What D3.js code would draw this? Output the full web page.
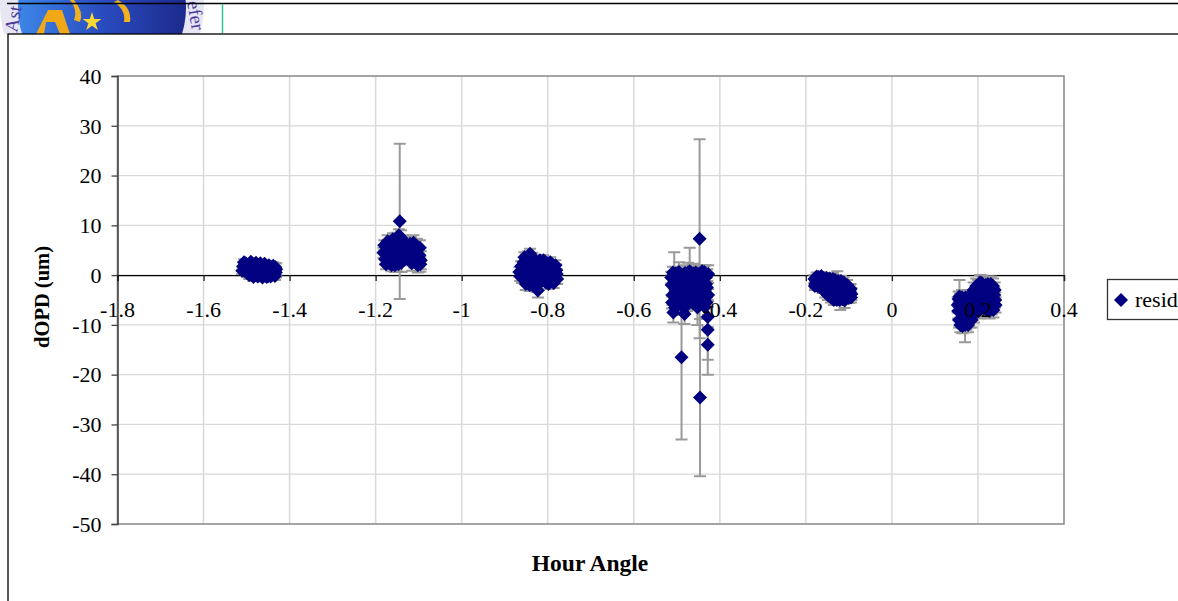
<!DOCTYPE html>
<html><head><meta charset="utf-8">
<script src="https://cdn.jsdelivr.net/npm/d3@7"></script>
<style>
body{margin:0;background:#fff;overflow:hidden;}
svg{display:block;font-family:"Liberation Serif","Times New Roman",serif;}
</style>
</head><body>
<svg id="c" width="1178" height="601"></svg>
<script>
// ---------- data ----------
const xTicks = [-1.8,-1.6,-1.4,-1.2,-1,-0.8,-0.6,-0.4,-0.2,0,0.2,0.4];
const xTickLabels = ["-1.8","-1.6","-1.4","-1.2","-1","-0.8","-0.6","-0.4","-0.2","0","0.2","0.4"];
const yTicks = [-50,-40,-30,-20,-10,0,10,20,30,40];
const yTickLabels = ["-50","-40","-30","-20","-10","0","10","20","30","40"];
const xTitle = "Hour Angle";
const yTitle = "dOPD (um)";
const seriesName = "resid";

// [hour angle, dOPD, error]
const cluster1 = [[-1.508,1.8,0.8],[-1.505,1.0,0.8],[-1.502,2.4,0.6],[-1.499,0.4,0.8],[-1.496,1.5,0.7],[-1.492,2.1,0.6],[-1.489,0.8,0.7],[-1.486,1.3,0.7],[-1.482,2.2,0.6],[-1.479,0.2,0.8],[-1.476,1.6,0.7],[-1.472,0.9,0.7],[-1.469,1.9,0.6],[-1.466,0.0,0.8],[-1.462,1.2,0.7],[-1.459,1.8,0.6],[-1.456,0.5,0.7],[-1.452,1.4,0.7],[-1.449,-0.2,0.8],[-1.446,1.0,0.7],[-1.442,1.6,0.6],[-1.439,0.3,0.7],[-1.436,0.9,0.8],[-1.432,0.5,1.0],[-1.431,1.2,1.2],
  [-1.510,0.9,0.7],[-1.506,2.6,0.6],[-1.500,1.2,0.7],[-1.494,0.0,0.8],[-1.490,2.7,0.6],[-1.484,-0.4,0.8],[-1.478,2.5,0.6],[-1.474,-0.3,0.8],[-1.468,2.4,0.6],[-1.463,-0.5,0.8],[-1.458,2.3,0.6],[-1.453,-0.4,0.8],[-1.448,2.0,0.6],[-1.444,-0.3,0.8],[-1.438,1.9,0.7],[-1.434,-0.2,0.8],[-1.433,1.6,0.8]];
const cluster2 = [[-1.182,4.5,1.0],[-1.178,3.2,1.0],[-1.175,5.6,1.0],[-1.171,4.0,1.2],[-1.168,2.4,1.0],[-1.165,6.0,1.2],[-1.161,3.5,1.5],[-1.158,5.0,1.2],[-1.155,2.0,1.4],[-1.152,7.0,1.5],[-1.149,4.2,2.0],[-1.146,8.0,1.2],[-1.144,10.8,15.6],[-1.143,5.5,1.5],[-1.140,2.5,1.9],[-1.137,6.5,1.5],[-1.134,4.0,2.0],[-1.130,4.2,1.5],[-1.126,5.2,2.5],[-1.122,4.5,1.5],[-1.118,6.0,1.6],[-1.114,4.5,1.5],[-1.110,3.0,1.5],[-1.106,5.5,1.5],[-1.102,2.0,1.5],[-1.098,4.0,1.5],[-1.095,3.0,1.8],
  [-1.180,6.0,1.0],[-1.176,2.2,1.0],[-1.172,6.8,1.2],[-1.163,2.0,1.2],[-1.160,7.2,1.2],[-1.156,3.0,1.2],[-1.150,5.8,1.5],[-1.147,2.2,1.5],[-1.141,7.5,1.5],[-1.138,3.5,1.5],[-1.132,6.2,1.5],[-1.128,6.2,1.5],[-1.124,3.8,1.5],[-1.120,6.3,1.5],[-1.116,2.4,1.5],[-1.112,6.5,1.5],[-1.108,4.0,1.5],[-1.104,5.8,1.5],[-1.100,3.2,1.5],[-1.097,5.5,1.5],[-1.096,2.2,1.5]];
const cluster3 = [[-0.866,0.6,1.0],[-0.862,1.8,1.0],[-0.860,-0.6,1.0],[-0.856,2.6,1.0],[-0.853,0.2,1.2],[-0.850,3.2,1.0],[-0.847,-1.0,1.2],[-0.844,1.5,1.0],[-0.841,4.3,1.0],[-0.838,2.2,1.0],[-0.835,-1.6,1.5],[-0.832,0.8,1.2],[-0.829,3.0,1.0],[-0.826,-2.2,1.2],[-0.823,-3.1,1.4],[-0.820,1.2,1.0],[-0.816,2.6,1.0],[-0.812,-0.5,1.2],[-0.808,1.8,1.0],[-0.804,-1.5,1.2],[-0.800,2.4,1.0],[-0.796,0.4,1.0],[-0.792,-1.0,1.2],[-0.788,1.5,1.0],[-0.784,0.0,1.0],[-0.780,1.0,1.2],[-0.778,-0.8,1.0],
  [-0.864,-0.2,1.0],[-0.858,1.0,1.0],[-0.854,3.6,1.0],[-0.851,-1.8,1.2],[-0.848,2.0,1.0],[-0.845,3.8,1.0],[-0.842,-2.0,1.2],[-0.839,0.2,1.0],[-0.836,3.5,1.0],[-0.833,-0.8,1.2],[-0.830,1.8,1.0],[-0.827,-1.0,1.2],[-0.824,2.0,1.0],[-0.821,-1.8,1.2],[-0.818,3.0,1.0],[-0.814,0.4,1.0],[-0.810,3.0,1.0],[-0.806,-1.2,1.0],[-0.802,0.8,1.0],[-0.798,-1.8,1.0],[-0.794,2.6,1.0],[-0.790,0.5,1.0],[-0.786,-1.6,1.0],[-0.782,2.0,1.0],[-0.779,0.2,1.0]];
const cluster4 = [[-0.512,-2.0,2.0],[-0.510,-4.0,2.0],[-0.508,-7.5,2.0],[-0.506,0.2,4.4],[-0.503,-3.0,2.0],[-0.500,-5.2,2.0],[-0.498,-1.0,2.0],[-0.495,0.6,2.0],[-0.492,-3.8,2.0],[-0.490,-6.0,2.0],[-0.489,-16.5,16.5],[-0.487,-2.2,2.0],[-0.484,0.0,2.0],[-0.482,-7.8,2.0],[-0.480,-4.5,2.0],[-0.477,-1.5,2.0],[-0.474,0.5,2.0],[-0.472,-3.0,2.0],[-0.470,0.8,4.7],[-0.467,-5.0,2.0],[-0.464,-2.0,2.0],[-0.461,0.3,2.0],[-0.458,-3.5,2.0],[-0.455,-1.0,3.0],[-0.452,-6.5,3.5],[-0.449,-4.0,2.0],[-0.447,7.3,20.0],[-0.446,-24.6,15.8],[-0.444,-1.5,3.5],[-0.441,0.8,1.2],[-0.438,-3.0,2.0],[-0.435,-6.4,2.0],[-0.433,-0.5,2.5],[-0.430,-2.5,2.0],[-0.428,-8.4,2.0],[-0.428,-11.0,6.0],[-0.428,-14.0,6.0],[-0.427,0.2,1.8],
  [-0.513,-0.5,1.2],[-0.511,-5.5,1.2],[-0.509,0.5,1.2],[-0.507,-1.5,1.2],[-0.505,-4.5,1.2],[-0.504,-6.5,1.2],[-0.502,0.3,1.2],[-0.501,-2.0,1.2],[-0.499,-3.5,1.2],[-0.497,-6.0,1.2],[-0.494,-2.5,1.2],[-0.493,0.0,1.2],[-0.491,-4.8,1.2],[-0.488,-1.0,1.2],[-0.486,-5.5,1.2],[-0.483,-3.0,1.2],[-0.481,0.4,1.2],[-0.479,-2.0,1.2],[-0.476,-6.0,1.2],[-0.475,-4.0,1.2],[-0.473,-0.5,1.2],[-0.469,-2.5,1.2],[-0.468,-4.0,1.2],[-0.466,0.2,1.2],[-0.463,-5.5,1.2],[-0.462,-3.0,1.2],[-0.460,-1.0,1.2],[-0.457,-4.8,1.2],[-0.456,0.5,1.2],[-0.454,-2.5,1.2],[-0.451,-4.0,1.2],[-0.450,0.2,1.2],[-0.448,-2.0,1.2],[-0.445,-5.0,1.2],[-0.443,0.5,1.2],[-0.442,-3.8,1.2],[-0.440,-1.5,1.2],[-0.437,-5.0,1.2],[-0.436,0.6,1.2],[-0.434,-3.5,1.2],[-0.432,-1.8,1.2],[-0.431,-5.5,1.2],[-0.429,0.0,1.2],[-0.427,-4.0,1.2]];
const cluster5 = [[-0.180,-0.8,0.8],[-0.178,-1.8,0.8],[-0.175,-0.3,0.8],[-0.172,-1.3,0.8],[-0.169,-2.1,0.8],[-0.166,-0.6,0.8],[-0.163,-1.6,0.8],[-0.160,-2.5,1.0],[-0.157,-0.9,0.8],[-0.154,-2.0,1.0],[-0.150,-3.0,1.0],[-0.147,-1.2,1.0],[-0.144,-2.4,1.0],[-0.140,-3.6,1.0],[-0.137,-0.8,1.2],[-0.134,-2.8,1.0],[-0.130,-4.2,1.2],[-0.127,-1.8,2.6],[-0.124,-3.3,1.0],[-0.120,-4.8,2.2],[-0.117,-2.4,1.0],[-0.113,-3.8,1.0],[-0.110,-5.1,1.5],[-0.106,-2.8,1.0],[-0.102,-4.2,1.2],[-0.098,-3.2,1.0],[-0.094,-3.8,1.2],
  [-0.179,-2.2,0.8],[-0.176,-1.0,0.8],[-0.173,-2.2,0.8],[-0.170,-0.4,0.8],[-0.167,-2.4,0.8],[-0.164,-0.2,0.8],[-0.161,-2.8,0.8],[-0.158,-1.4,0.8],[-0.155,-3.5,1.0],[-0.152,-0.6,0.8],[-0.149,-4.0,1.0],[-0.145,-0.7,1.0],[-0.142,-4.5,1.0],[-0.138,-2.0,1.0],[-0.135,-5.0,1.0],[-0.132,-1.0,1.0],[-0.128,-5.0,1.0],[-0.125,-1.2,1.0],[-0.122,-5.0,1.0],[-0.118,-1.2,1.0],[-0.115,-4.8,1.0],[-0.112,-1.5,1.0],[-0.108,-4.0,1.0],[-0.104,-2.0,1.0],[-0.100,-4.6,1.0],[-0.096,-2.8,1.0],[-0.095,-4.5,1.0]];
const cluster6 = [[0.153,-6.0,1.5],[0.155,-4.8,1.5],[0.157,-4.3,3.3],[0.160,-5.5,1.5],[0.162,-9.2,1.5],[0.165,-8.0,1.5],[0.167,-7.0,1.5],[0.170,-10.0,3.5],[0.172,-5.8,1.5],[0.175,-8.5,1.5],[0.178,-6.5,1.5],[0.181,-9.0,1.5],[0.184,-4.8,1.5],[0.187,-7.5,1.5],[0.190,-3.0,1.5],[0.193,-6.0,1.5],[0.196,-2.2,1.5],[0.199,-4.5,1.5],[0.202,-7.2,1.5],[0.205,-1.5,1.5],[0.208,-3.5,1.5],[0.211,-5.8,1.5],[0.214,-2.5,1.5],[0.217,-4.2,1.5],[0.220,-7.0,1.5],[0.223,-1.8,1.5],[0.226,-5.0,1.5],[0.229,-3.0,1.5],[0.232,-6.4,1.5],[0.235,-2.2,1.5],[0.238,-4.0,1.5],[0.241,-6.0,1.5],
  [0.154,-7.2,1.5],[0.156,-9.0,1.5],[0.158,-5.2,1.5],[0.159,-10.0,1.5],[0.161,-7.5,1.5],[0.163,-4.5,1.5],[0.164,-10.2,1.5],[0.166,-5.5,1.5],[0.168,-8.8,1.5],[0.171,-4.5,1.5],[0.173,-9.5,1.5],[0.174,-7.0,1.5],[0.176,-4.5,1.5],[0.177,-10.0,1.5],[0.179,-8.0,1.5],[0.182,-5.5,1.5],[0.183,-7.0,1.5],[0.185,-9.0,1.5],[0.188,-5.0,1.5],[0.191,-8.0,1.5],[0.194,-4.0,1.5],[0.197,-6.8,1.5],[0.200,-2.5,1.5],[0.203,-5.0,1.5],[0.206,-6.8,1.5],[0.209,-1.6,1.5],[0.212,-4.0,1.5],[0.215,-6.5,1.5],[0.218,-2.0,1.5],[0.221,-5.5,1.5],[0.224,-3.5,1.5],[0.227,-7.2,1.5],[0.230,-1.8,1.5],[0.233,-4.6,1.5],[0.236,-7.0,1.5],[0.239,-3.0,1.5],[0.240,-5.0,1.5]];

const points = [].concat(cluster1, cluster2, cluster3, cluster4, cluster5, cluster6);

// ---------- drawing ----------
const svg = d3.select("#c");
const W = 1178, H = 601;
const plot = {l: 117.5, r: 1064, t: 76, b: 524};
const x = d3.scaleLinear().domain([-1.8, 0.4]).range([plot.l, plot.r]);
const y = d3.scaleLinear().domain([-50, 40]).range([plot.b, plot.t]);
const navy = "#000080";
const errColor = "#9a9a9a";

// ---- page decoration (slide frame + logo) ----
const defs = svg.append("defs");
defs.append("clipPath").attr("id","logoClip").append("rect").attr("x",0).attr("y",0).attr("width",222).attr("height",34);
const lg = defs.append("linearGradient").attr("id","blueGrad").attr("x1","0").attr("x2","1").attr("y1","0").attr("y2","0");
lg.append("stop").attr("offset","0").attr("stop-color","#3d86e8");
lg.append("stop").attr("offset","0.5").attr("stop-color","#2a4cc0");
lg.append("stop").attr("offset","1").attr("stop-color","#1c2a8c");

const logo = svg.append("g").attr("clip-path","url(#logoClip)");
logo.append("circle").attr("cx",102).attr("cy",5).attr("r",102).attr("fill","#e6e6f4");
logo.append("circle").attr("cx",102).attr("cy",8).attr("r",84).attr("fill","url(#blueGrad)");
logo.append("path").attr("d","M36,34 L48,10 L62,10 L70,34 L60,34 L55,22 L46,22 L44,34 Z").attr("fill","#f0a818");
logo.append("path").attr("d","M74,0 Q84,12 80,22 L74,20 Q78,10 70,0 Z").attr("fill","#f0b020");
logo.append("path").attr("d","M118,0 Q132,8 130,22 L124,22 Q126,10 114,2 Z").attr("fill","#f0b020");
const star = d3.symbol().type(d3.symbolStar).size(110);
logo.append("path").attr("d",star()).attr("transform","translate(92,22)").attr("fill","#f8d830");
logo.append("text").attr("transform","translate(17,33) rotate(-80)").attr("font-size",19).attr("fill","#4a3a9a").text("Ast");
logo.append("text").attr("transform","translate(187,2) rotate(80)").attr("font-size",19).attr("fill","#4a3a9a").text("efer");

svg.append("line").attr("x1",7).attr("x2",W).attr("y1",3.5).attr("y2",3.5).attr("stroke","#000").attr("stroke-width",1.3);
svg.append("line").attr("x1",222.5).attr("x2",222.5).attr("y1",4).attr("y2",33).attr("stroke","#2ec49a").attr("stroke-width",1.5);
svg.append("rect").attr("x",8).attr("y",34).attr("width",W+10).attr("height",H).attr("fill","#fff").attr("stroke","#000").attr("stroke-width",1.3);

// ---- grid ----
const grid = svg.append("g");
grid.selectAll(".vg").data(xTicks).join("line")
  .attr("x1",d=>x(d)).attr("x2",d=>x(d)).attr("y1",plot.t).attr("y2",plot.b)
  .attr("stroke","#d9d9d9").attr("stroke-width",1.5);
grid.selectAll(".hg").data(yTicks).join("line")
  .attr("x1",plot.l).attr("x2",plot.r).attr("y1",d=>y(d)).attr("y2",d=>y(d))
  .attr("stroke","#d9d9d9").attr("stroke-width",1.2);
svg.append("rect").attr("x",plot.l).attr("y",plot.t).attr("width",plot.r-plot.l).attr("height",plot.b-plot.t)
  .attr("fill","none").attr("stroke","#8c8c8c").attr("stroke-width",1.5);

// ---- y axis ----
const yAxis = d3.axisLeft(y).tickValues(yTicks).tickSize(6).tickPadding(10)
  .tickFormat(d=>yTickLabels[yTicks.indexOf(d)]);
const gy = svg.append("g").attr("transform",`translate(${plot.l},0)`).call(yAxis);
gy.select(".domain").attr("stroke","#444").attr("stroke-width",1.5);
gy.selectAll(".tick line").attr("stroke","#444").attr("stroke-width",1.3);
gy.selectAll(".tick text").attr("font-size",22).attr("font-family","Liberation Serif").attr("fill","#000").attr("dy","0.33em");

// ---- x axis (at y = 0) ----
const xAxis = d3.axisBottom(x).tickValues(xTicks).tickSize(6).tickFormat("");
const gx = svg.append("g").attr("transform",`translate(0,${y(0)})`).call(xAxis);
gx.select(".domain").attr("stroke","#000").attr("stroke-width",1.3);
gx.selectAll(".tick line").attr("stroke","#222").attr("stroke-width",1.3);

// ---- error bars ----
const eb = svg.append("g").attr("stroke",errColor).attr("stroke-width",2).attr("fill","none");
const capW = 6;
eb.selectAll(".eb").data(points).join("path")
  .attr("d",d=>{
    const cx = x(d[0]), yt = y(d[1]+d[2]), yb = y(d[1]-d[2]);
    return `M${cx},${yt}V${yb}M${cx-capW},${yt}H${cx+capW}M${cx-capW},${yb}H${cx+capW}`;
  });

// ---- markers ----
function diamondPath(s){ return `M0,${-s}L${s},0L0,${s}L${-s},0Z`; }
svg.append("g").selectAll("path.m").data(points).join("path")
  .attr("d",diamondPath(7))
  .attr("transform",d=>`translate(${x(d[0])},${y(d[1])})`)
  .attr("fill",navy);

// ---- x tick labels (drawn on top) ----
svg.append("g").selectAll("text").data(xTicks).join("text")
  .attr("x",d=>x(d)).attr("y",y(0)+42).attr("text-anchor","middle")
  .attr("font-size",22).attr("fill","#000")
  .text((d,i)=>xTickLabels[i]);

// ---- axis titles ----
svg.append("text").attr("x",590).attr("y",571).attr("text-anchor","middle")
  .attr("font-size",23.5).attr("font-weight","bold").text(xTitle);
svg.append("text").attr("transform",`translate(49,297) rotate(-90)`).attr("text-anchor","middle")
  .attr("font-size",20.5).attr("font-weight","bold").text(yTitle);

// ---- legend ----
const leg = svg.append("g");
leg.append("rect").attr("x",1107.5).attr("y",279.5).attr("width",100).attr("height",40)
  .attr("fill","#fff").attr("stroke","#333").attr("stroke-width",1.3);
leg.append("path").attr("d",diamondPath(7)).attr("transform","translate(1121,300)").attr("fill",navy);
leg.append("text").attr("x",1135).attr("y",307).attr("font-size",22).text(seriesName);
</script>
</body></html>
